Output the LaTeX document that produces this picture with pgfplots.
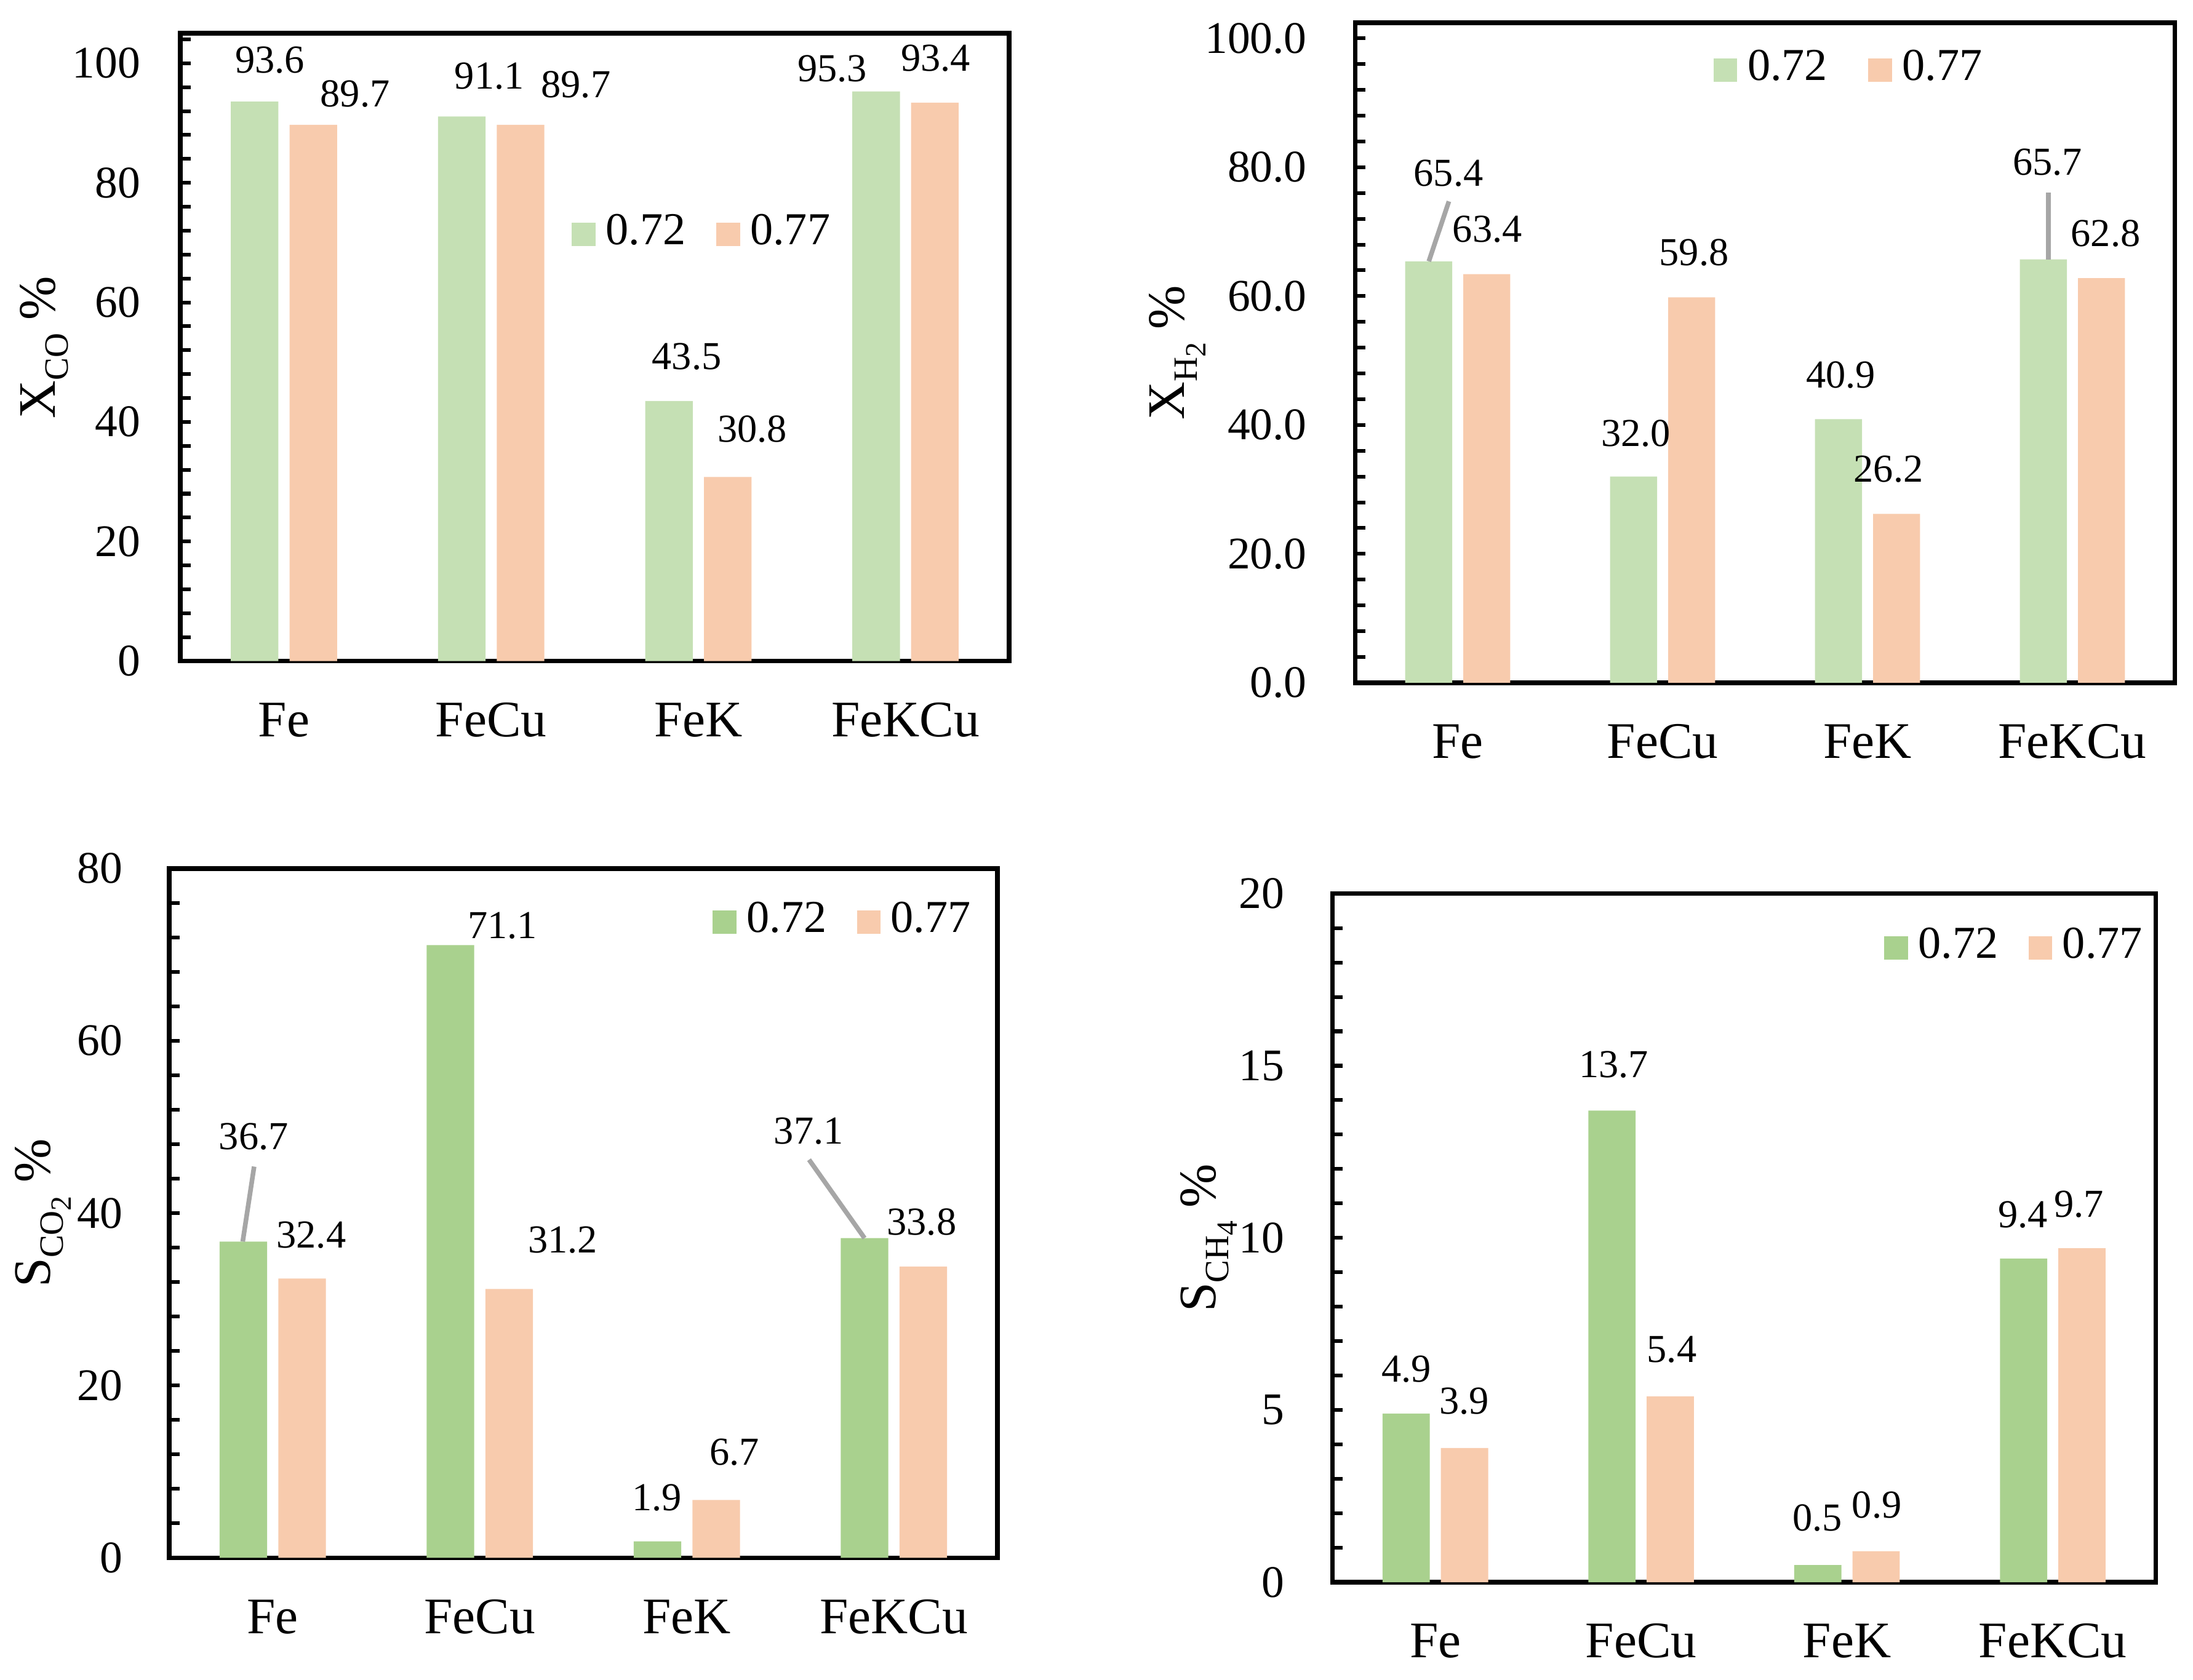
\documentclass[border=0pt]{standalone}
\usepackage{fontspec}
\setmainfont{Liberation Serif}
\usepackage{pgfplots}
\pgfplotsset{compat=1.18}
\definecolor{gA}{HTML}{C5E0B4}
\definecolor{gB}{HTML}{A9D18E}
\definecolor{oA}{HTML}{F8CBAD}
\definecolor{lead}{HTML}{A6A6A6}
\newcommand\datafont{\fontsize{8.5}{10}\selectfont}
\newcommand\tickfont{\fontsize{9.7}{11}\selectfont}
\newcommand\catfont{\fontsize{11}{13}\selectfont}
\newcommand\legfont{\fontsize{9.8}{11}\selectfont}
\newcommand\labfont{\fontsize{11.3}{13}\selectfont}
\newcommand\sub[1]{\raisebox{-2.7pt}{\fontsize{7.3}{8}\selectfont #1}}
\newcommand\subsub[1]{\raisebox{-1.8pt}{\fontsize{6.3}{7}\selectfont #1}}
\tikzset{
  dl/.style={anchor=base, font=\datafont, inner sep=0pt},
  ld/.style={draw=lead, line width=1pt},
}
\pgfplotsset{
  panel/.style={
    scale only axis, anchor=south west,
    ybar, bar width=0.2296, clip=false,
    xmin=-0.5, xmax=3.5, ymin=0,
    xtick={0,1,2,3}, xticklabels={Fe,FeCu,FeK,FeKCu},
    xtick style={draw=none},
    xticklabel style={anchor=base, yshift=-16.2pt, font=\catfont, inner sep=0pt},
    ytick pos=left, tick align=inside,
    major tick length=2.2pt, minor tick length=2.2pt,
    every tick/.style={black, line width=0.8pt},
    axis line style={line width=1pt},
    /pgf/number format/assume math mode=true,
    yticklabel style={anchor=east, inner sep=0pt, font=\tickfont},
    ylabel style={font=\labfont, anchor=base},
    legend image code/.code={\fill[##1] (0pt,-2.8pt) rectangle (5.1pt,2.2pt); \path (7.3pt,0pt);},
    legend style={draw=none, fill=none, inner sep=0pt, legend columns=2,
      font=\legfont, anchor=center, nodes={inner sep=0pt},
      /tikz/every even column/.append style={column sep=6.5pt}},
  },
}
\begin{document}
\begin{tikzpicture}
\useasboundingbox (0,0) rectangle (470.4pt,360.45pt);

% ---------- Panel 1: X_CO ----------
\begin{axis}[panel, at={(38.7pt,218.61pt)}, width=177.75pt, height=134.67pt,
  ymax=105, ytick={0,20,...,100}, minor ytick={0,4,...,104},
  yticklabel style={xshift=-8.4pt},
  ylabel={X\sub{CO} \%},
  ylabel style={at={(axis description cs:-0.1509,0.5)}},
  legend style={at={(0.6283,0.682)}}]
\addplot[fill=gA, draw=none, bar shift=-0.1418] coordinates {(0,93.6) (1,91.1) (2,43.5) (3,95.3)};
\addplot[fill=oA, draw=none, bar shift=0.1418] coordinates {(0,89.7) (1,89.7) (2,30.8) (3,93.4)};
\addlegendentry{0.72}
\addlegendentry{0.77}
\node[dl] at (axis cs:-0.068,98.4) {93.6};
\node[dl] at (axis cs:0.343,92.7) {89.7};
\node[dl] at (axis cs:0.991,95.67) {91.1};
\node[dl] at (axis cs:1.409,94.3) {89.7};
\node[dl] at (axis cs:1.944,48.8) {43.5};
\node[dl] at (axis cs:2.260,36.6) {30.8};
\node[dl] at (axis cs:2.646,97.0) {95.3};
\node[dl] at (axis cs:3.146,98.7) {93.4};
\end{axis}

% ---------- Panel 2: X_H2 ----------
\begin{axis}[panel, at={(290.7pt,213.96pt)}, width=175.8pt, height=141.57pt,
  ymax=102.4, ytick={0,20,...,100}, minor ytick={0,4,...,100},
  yticklabel style={xshift=-10.2pt, /pgf/number format/.cd, fixed, fixed zerofill, precision=1},
  ylabel={X\sub{H\subsub{2}} \%},
  ylabel style={at={(axis description cs:-0.2084,0.5)}},
  legend style={at={(0.601,0.9305)}, /tikz/every even column/.append style={column sep=8.7pt}}]
\addplot[fill=gA, draw=none, bar shift=-0.1418] coordinates {(0,65.4) (1,32.0) (2,40.9) (3,65.7)};
\addplot[fill=oA, draw=none, bar shift=0.1418] coordinates {(0,63.4) (1,59.8) (2,26.2) (3,62.8)};
\addlegendentry{0.72}
\addlegendentry{0.77}
\draw[ld] (axis cs:-0.141,65.4) -- (axis cs:-0.043,74.7);
\draw[ld] (axis cs:2.883,65.7) -- (axis cs:2.883,76.1);
\node[dl] at (axis cs:-0.045,77.1) {65.4};
\node[dl] at (axis cs:0.145,68.4) {63.4};
\node[dl] at (axis cs:0.870,36.7) {32.0};
\node[dl] at (axis cs:1.153,64.8) {59.8};
\node[dl] at (axis cs:1.870,45.8) {40.9};
\node[dl] at (axis cs:2.102,31.2) {26.2};
\node[dl] at (axis cs:2.879,78.8) {65.7};
\node[dl] at (axis cs:3.162,67.7) {62.8};
\end{axis}

% ---------- Panel 3: S_CO2 ----------
\begin{axis}[panel, at={(36.3pt,26.22pt)}, width=177.66pt, height=147.9pt,
  ymax=80, ytick={0,20,...,80}, minor ytick={0,4,...,80},
  yticklabel style={xshift=-9.8pt},
  ylabel={S\sub{CO\subsub{2}} \%},
  ylabel style={at={(axis description cs:-0.1437,0.5)}},
  legend style={at={(0.8119,0.924)}}]
\addplot[fill=gB, draw=none, bar shift=-0.1418] coordinates {(0,36.7) (1,71.1) (2,1.9) (3,37.1)};
\addplot[fill=oA, draw=none, bar shift=0.1418] coordinates {(0,32.4) (1,31.2) (2,6.7) (3,33.8)};
\addlegendentry{0.72}
\addlegendentry{0.77}
\draw[ld] (axis cs:-0.145,36.7) -- (axis cs:-0.090,45.4);
\draw[ld] (axis cs:2.858,37.1) -- (axis cs:2.590,46.2);
\node[dl] at (axis cs:-0.092,47.4) {36.7};
\node[dl] at (axis cs:0.186,36.0) {32.4};
\node[dl] at (axis cs:1.109,71.9) {71.1};
\node[dl] at (axis cs:1.400,35.4) {31.2};
\node[dl] at (axis cs:1.855,5.5) {1.9};
\node[dl] at (axis cs:2.229,10.8) {6.7};
\node[dl] at (axis cs:2.588,48.0) {37.1};
\node[dl] at (axis cs:3.134,37.5) {33.8};
\end{axis}

% ---------- Panel 4: S_CH4 ----------
\begin{axis}[panel, at={(285.81pt,20.97pt)}, width=176.58pt, height=147.75pt,
  ymax=20, ytick={0,5,...,20}, minor ytick={0,1,...,20},
  yticklabel style={xshift=-10.1pt},
  ylabel={S\sub{CH\subsub{4}} \%},
  ylabel style={at={(axis description cs:-0.1417,0.5)}},
  legend style={at={(0.8271,0.923)}}]
\addplot[fill=gB, draw=none, bar shift=-0.1418] coordinates {(0,4.9) (1,13.7) (2,0.5) (3,9.4)};
\addplot[fill=oA, draw=none, bar shift=0.1418] coordinates {(0,3.9) (1,5.4) (2,0.9) (3,9.7)};
\addlegendentry{0.72}
\addlegendentry{0.77}
\node[dl] at (axis cs:-0.141,5.82) {4.9};
\node[dl] at (axis cs:0.141,4.88) {3.9};
\node[dl] at (axis cs:0.866,14.66) {13.7};
\node[dl] at (axis cs:1.149,6.38) {5.4};
\node[dl] at (axis cs:1.857,1.49) {0.5};
\node[dl] at (axis cs:2.145,1.87) {0.9};
\node[dl] at (axis cs:2.856,10.30) {9.4};
\node[dl] at (axis cs:3.128,10.61) {9.7};
\end{axis}
\end{tikzpicture}
\end{document}
